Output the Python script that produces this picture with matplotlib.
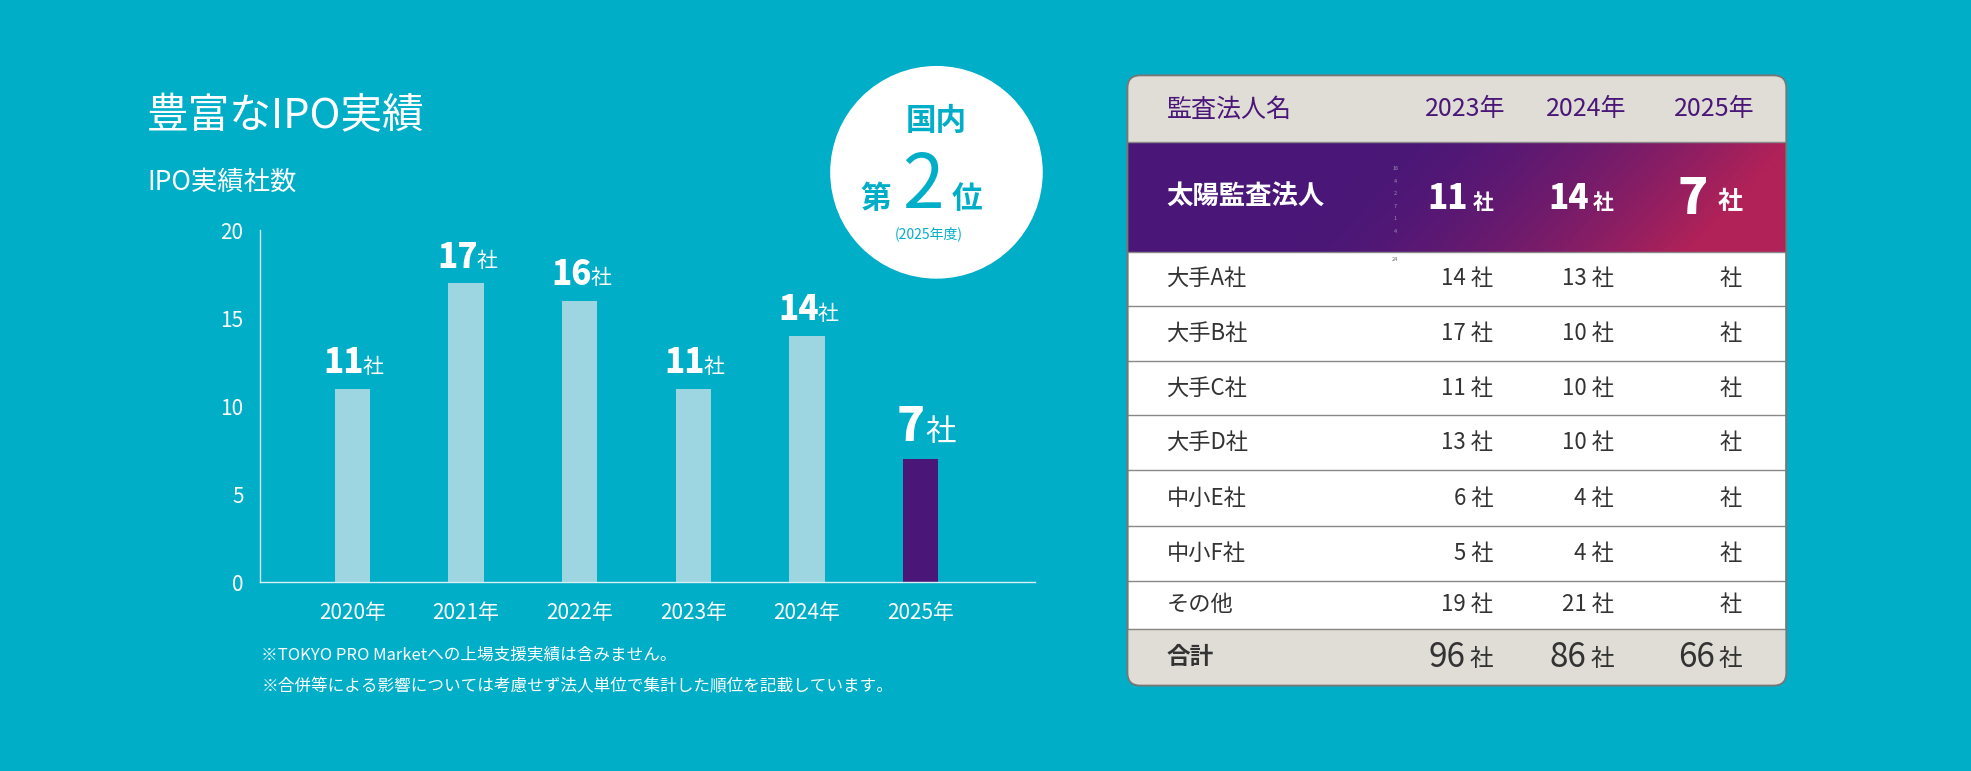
import numpy as np
import matplotlib.pyplot as plt
from matplotlib.patches import FancyBboxPatch, Circle

plt.rcParams['font.family'] = ['Noto Sans CJK JP', 'DejaVu Sans']

years = ['2020年', '2021年', '2022年', '2023年', '2024年', '2025年']
ipo_counts = [11, 17, 16, 11, 14, 7]
table_cols = ['2023年', '2024年', '2025年']
taiyo_row = ['11', '14', '7']
firms = ['大手A社', '大手B社', '大手C社', '大手D社', '中小E社', '中小F社', 'その他']
firm_2023 = ['14', '17', '11', '13', '6', '5', '19']
firm_2024 = ['13', '10', '10', '10', '4', '4', '21']
totals = ['96', '86', '66']

BG = '#00aec8'
BAR = '#9dd5e0'
PURPLE = '#4a1778'
GRAYTXT = '#333333'
W, H = 1568, 613

fig = plt.figure(figsize=(19.71, 7.71), dpi=100, facecolor=BG)

# overlay axes in display-pixel coordinates
ov = fig.add_axes([0, 0, 1, 1])
ov.set_xlim(0, W)
ov.set_ylim(H, 0)
ov.axis('off')
ov.set_facecolor(BG)

ov.text(117, 93, '豊富なIPO実績', color='white', fontsize=30, va='center')
ov.text(117, 145, 'IPO実績社数', color='white', fontsize=19, va='center')
ov.text(208, 521, '※TOKYO PRO Marketへの上場支援実績は含みません。', color='white', fontsize=12, va='center')
ov.text(208, 546, '※合併等による影響については考慮せず法人単位で集計した順位を記載しています。', color='white', fontsize=12, va='center')

# badge
ov.add_patch(Circle((745, 137), 84, color='white', zorder=2))
ov.text(745, 96, '国内', color=BG, fontsize=22, weight='bold', ha='center', va='center', zorder=3)
ov.text(697, 158, '第', color=BG, fontsize=22, weight='bold', ha='center', va='center', zorder=3)
ov.text(734, 148, '2', color=BG, fontsize=54, ha='center', va='center', zorder=3)
ov.text(769, 158, '位', color=BG, fontsize=22, weight='bold', ha='center', va='center', zorder=3)
ov.text(739, 186, '(2025年度)', color=BG, fontsize=10, ha='center', va='center', zorder=3)

# bar chart
ax = fig.add_axes([207 / W, 1 - 463 / H, (823 - 207) / W, (463 - 183) / H])
ax.set_facecolor('none')
x = np.arange(len(years))
colors = [BAR] * (len(years) - 1) + [PURPLE]
ax.bar(x, ipo_counts, width=0.31, color=colors)
ax.set_xlim(-0.81, 6.0)
ax.set_ylim(0, 20)
ax.set_yticks([0, 5, 10, 15, 20])
ax.set_xticks(x)
ax.set_xticklabels(years)
for s in ['top', 'right']:
    ax.spines[s].set_visible(False)
for s in ['left', 'bottom']:
    ax.spines[s].set_color('#d8f0f4')
    ax.spines[s].set_linewidth(1)
ax.tick_params(colors='white', labelsize=15, length=0)
ax.tick_params(axis='x', pad=14)
ax.tick_params(axis='y', pad=12)
for i, v in enumerate(ipo_counts):
    big = i == len(ipo_counts) - 1
    ax.annotate(str(v), (i, v), xytext=(-6 if not big else -7, 6), textcoords='offset points',
                ha='center', va='bottom', color='white', fontsize=33 if big else 24, weight='black')
    ax.annotate('社', (i, v), xytext=(15 if not big else 14, 8), textcoords='offset points',
                ha='center', va='bottom', color='white', fontsize=22 if big else 15)

# table
tx0, tx1, ty0, ty1 = 897, 1421, 60, 545
clip = FancyBboxPatch((tx0, ty0), tx1 - tx0, ty1 - ty0, boxstyle='round,pad=0,rounding_size=10',
                      facecolor='white', edgecolor='#777777', lw=1.2, zorder=1)
ov.add_patch(clip)
# header and total backgrounds
for y0, y1 in [(ty0, 113), (500, ty1)]:
    r = ov.add_patch(plt.Rectangle((tx0, y0), tx1 - tx0, y1 - y0, color='#e0dcd6', zorder=1.5))
    r.set_clip_path(clip)
# gradient for Taiyo row
gx = np.linspace(0, 1, 200)
gy = np.linspace(0, 1, 40)
GX, GY = np.meshgrid(gx, gy)
t = np.clip((GX - 0.4) / 0.6 + 0.25 * GY, 0, 1) ** 1.6
c0 = np.array([0x4a, 0x17, 0x78]) / 255
c1 = np.array([0xb0, 0x22, 0x58]) / 255
img = c0 + (c1 - c0) * t[..., None]
im = ov.imshow(img, extent=(tx0, tx1, 200, 113), aspect='auto', zorder=1.6)
im.set_clip_path(clip)
ov.set_xlim(0, W)
ov.set_ylim(H, 0)

row_lines = [113, 200, 243, 287, 330, 374, 418, 462, 500]
for yl in row_lines:
    ov.plot([tx0, tx1], [yl, yl], color='#888888', lw=1, zorder=2)
ov.add_patch(FancyBboxPatch((tx0, ty0), tx1 - tx0, ty1 - ty0, boxstyle='round,pad=0,rounding_size=10',
                            facecolor='none', edgecolor='#777777', lw=1.2, zorder=3))

col_r = [1198, 1294, 1396]
ov.text(928, 87, '監査法人名', color=PURPLE, fontsize=18, va='center')
for cx, lab in zip(col_r, table_cols):
    ov.text(cx, 87, lab, color=PURPLE, fontsize=18, va='center', ha='right')

ov.text(928, 157, '太陽監査法人', color='white', fontsize=19, weight='bold', va='center')
for j, (cx, v) in enumerate(zip(col_r, taiyo_row)):
    big = j == 2
    ov.text(cx - 10, 161, '社', color='white', fontsize=15 if not big else 18, weight='bold', va='center', ha='right')
    ov.text(cx - (30 if not big else 37), 158, v, color='white', fontsize=24 if not big else 36,
            weight='black', va='center', ha='right')
for k, s in enumerate(['16', '4', '2', '7', '1', '4']):
    ov.text(1110, 134 + k * 10, s, color='#9a8fb0', fontsize=4, ha='center', va='center')
ov.text(1110, 206, '24', color='#666666', fontsize=4, ha='center', va='center')

row_c = [(200 + 243) / 2, (243 + 287) / 2, (287 + 330) / 2, (330 + 374) / 2,
         (374 + 418) / 2, (418 + 462) / 2, (462 + 500) / 2]
for yc, name, a, b in zip(row_c, firms, firm_2023, firm_2024):
    ov.text(928, yc, name, color=GRAYTXT, fontsize=16, va='center')
    ov.text(col_r[0] - 10, yc, a + ' 社', color=GRAYTXT, fontsize=16, va='center', ha='right')
    ov.text(col_r[1] - 10, yc, b + ' 社', color=GRAYTXT, fontsize=16, va='center', ha='right')
    ov.text(col_r[2] - 10, yc, '社', color=GRAYTXT, fontsize=16, va='center', ha='right')

yt = (500 + ty1) / 2
ov.text(928, yt, '合計', color=GRAYTXT, fontsize=17, weight='bold', va='center')
for cx, v in zip(col_r, totals):
    ov.text(cx - 10, yt + 2, '社', color=GRAYTXT, fontsize=17, va='center', ha='right')
    ov.text(cx - 32, yt, v, color=GRAYTXT, fontsize=24, va='center', ha='right')

fig.savefig('out.png', dpi=100, facecolor=BG)
